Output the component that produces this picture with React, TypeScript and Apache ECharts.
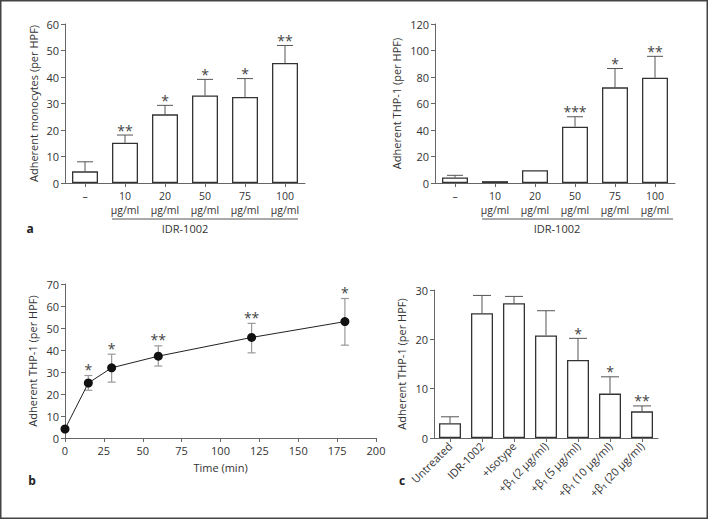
import React, { useEffect, useRef } from "react";
import * as echarts from "echarts";

// ---- Panel a: adherent monocytes vs IDR-1002 dose ----
const doseCats = ["–", "10\nµg/ml", "20\nµg/ml", "50\nµg/ml", "75\nµg/ml", "100\nµg/ml"];
const monoMean = [4.4, 15.2, 25.9, 33.0, 32.5, 45.3];
const monoUpper = [8.0, 18.1, 29.3, 39.1, 39.4, 51.9];
const monoSig = ["", "**", "*", "*", "*", "**"];

// ---- Panel top-right: adherent THP-1 vs IDR-1002 dose ----
const thpMean = [4.1, 1.4, 9.6, 42.5, 72.2, 79.4];
const thpUpper = [5.8, 1.4, 9.6, 50.0, 86.4, 95.6];
const thpSig = ["", "", "", "***", "*", "**"];

// ---- Panel b: time course ----
const timeMin = [0, 15, 30, 60, 120, 180];
const timeMean = [4.1, 25.0, 31.9, 37.2, 45.7, 52.9];
const timeLower = [4.1, 21.7, 25.4, 32.7, 38.7, 42.2];
const timeUpper = [4.1, 28.4, 38.1, 41.9, 52.1, 63.4];
const timeSig = ["", "*", "*", "**", "**", "*"];

// ---- Panel c: blocking ----
const blockCats = [
  "Untreated",
  "IDR-1002",
  "+Isotype",
  "+β₁ (2 µg/ml)",
  "+β₁ (5 µg/ml)",
  "+β₁ (10 µg/ml)",
  "+β₁ (20 µg/ml)",
];
const blockMean = [3.0, 25.3, 27.3, 20.8, 15.8, 9.0, 5.4];
const blockUpper = [4.3, 28.9, 28.7, 25.8, 20.2, 12.4, 6.5];
const blockSig = ["", "", "", "", "*", "*", "**"];

const FONT = "'Open Sans', 'DejaVu Sans', sans-serif";
const TXT = "#333";
const AX = "#666";

function barErrSeries(xi: number, mean: number[], upper: number[], sig: string[], cap: number) {
  return {
    type: "custom",
    xAxisIndex: xi,
    yAxisIndex: xi,
    z: 5,
    data: mean.map((m, k) => [k, m, upper[k]]),
    renderItem: (params: any, api: any) => {
      const i = api.value(0);
      const m = api.value(1);
      const u = api.value(2);
      const p0 = api.coord([i, m]);
      const p1 = api.coord([i, u]);
      const children: any[] = [];
      if (u > m) {
        children.push({
          type: "line",
          shape: { x1: p0[0], y1: p0[1], x2: p1[0], y2: p1[1] },
          style: { stroke: "#555", lineWidth: 1 },
        });
        children.push({
          type: "line",
          shape: { x1: p1[0] - cap, y1: p1[1], x2: p1[0] + cap, y2: p1[1] },
          style: { stroke: "#555", lineWidth: 1 },
        });
      }
      const s = sig[params.dataIndex];
      if (s) {
        children.push({
          type: "text",
          style: {
            text: s,
            x: p1[0],
            y: p1[1] - 5,
            textAlign: "center",
            textVerticalAlign: "middle",
            fontSize: 14,
            fontFamily: FONT,
            fill: "#444",
          },
        });
      }
      return { type: "group", children };
    },
  };
}

export default function App() {
  const ref = useRef<HTMLDivElement>(null);
  useEffect(() => {
    if (!ref.current) return;
    const chart = echarts.init(ref.current, undefined, { renderer: "svg" });

    const axisLine = { show: true, lineStyle: { color: AX, width: 1 } };
    const axisTick = { show: true, length: 4, lineStyle: { color: AX } };
    const axisLabel = { color: TXT, fontSize: 11, fontFamily: FONT };
    const nameStyle = { color: TXT, fontSize: 11, fontFamily: FONT };

    const option: any = {
      animation: false,
      backgroundColor: "#fff",
      grid: [
        { left: 65, top: 24, width: 240, height: 159 },
        { left: 435, top: 24, width: 240, height: 159 },
        { left: 65, top: 284, width: 311, height: 154 },
        { left: 434, top: 290, width: 224, height: 148 },
      ],
      xAxis: [
        {
          gridIndex: 0,
          type: "category",
          data: doseCats,
          axisLine,
          axisTick: { ...axisTick, alignWithLabel: true },
          axisLabel: { ...axisLabel, fontSize: 10.5, margin: 6, lineHeight: 14, interval: 0 },
        },
        {
          gridIndex: 1,
          type: "category",
          data: doseCats,
          axisLine,
          axisTick: { ...axisTick, alignWithLabel: true },
          axisLabel: { ...axisLabel, fontSize: 10.5, margin: 6, lineHeight: 14, interval: 0 },
        },
        {
          gridIndex: 2,
          type: "value",
          min: 0,
          max: 200,
          interval: 25,
          axisLine,
          axisTick,
          axisLabel: { ...axisLabel, margin: 7 },
          splitLine: { show: false },
          name: "Time (min)",
          nameLocation: "middle",
          nameGap: 24,
          nameTextStyle: nameStyle,
        },
        {
          gridIndex: 3,
          type: "category",
          data: blockCats,
          axisLine,
          axisTick: { ...axisTick, alignWithLabel: true },
          axisLabel: { ...axisLabel, rotate: 45, margin: 6, interval: 0 },
        },
      ],
      yAxis: [
        {
          gridIndex: 0,
          type: "value",
          min: 0,
          max: 60,
          interval: 10,
          axisLine,
          axisTick,
          axisLabel: { ...axisLabel, margin: 6 },
          splitLine: { show: false },
          name: "Adherent monocytes (per HPF)",
          nameLocation: "middle",
          nameGap: 26,
          nameTextStyle: nameStyle,
        },
        {
          gridIndex: 1,
          type: "value",
          min: 0,
          max: 120,
          interval: 20,
          axisLine,
          axisTick,
          axisLabel: { ...axisLabel, margin: 6 },
          splitLine: { show: false },
          name: "Adherent THP-1 (per HPF)",
          nameLocation: "middle",
          nameGap: 33,
          nameTextStyle: nameStyle,
        },
        {
          gridIndex: 2,
          type: "value",
          min: 0,
          max: 70,
          interval: 10,
          axisLine,
          axisTick,
          axisLabel: { ...axisLabel, margin: 6 },
          splitLine: { show: false },
          name: "Adherent THP-1 (per HPF)",
          nameLocation: "middle",
          nameGap: 27,
          nameTextStyle: nameStyle,
        },
        {
          gridIndex: 3,
          type: "value",
          min: 0,
          max: 30,
          interval: 10,
          axisLine,
          axisTick,
          axisLabel: { ...axisLabel, margin: 6 },
          splitLine: { show: false },
          name: "Adherent THP-1 (per HPF)",
          nameLocation: "middle",
          nameGap: 27,
          nameTextStyle: nameStyle,
        },
      ],
      series: [
        {
          type: "bar",
          xAxisIndex: 0,
          yAxisIndex: 0,
          data: monoMean,
          barWidth: 26,
          itemStyle: { color: "#fff", borderColor: "#333", borderWidth: 1.3 },
        },
        barErrSeries(0, monoMean, monoUpper, monoSig, 8),
        {
          type: "bar",
          xAxisIndex: 1,
          yAxisIndex: 1,
          data: thpMean,
          barWidth: 26,
          itemStyle: { color: "#fff", borderColor: "#333", borderWidth: 1.3 },
        },
        barErrSeries(1, thpMean, thpUpper, thpSig, 8),
        {
          type: "custom",
          xAxisIndex: 2,
          yAxisIndex: 2,
          z: 1,
          data: timeMin.map((t, k) => [t, timeLower[k], timeUpper[k]]),
          renderItem: (params: any, api: any) => {
            const t = api.value(0);
            const lo = api.value(1);
            const hi = api.value(2);
            const pl = api.coord([t, lo]);
            const ph = api.coord([t, hi]);
            const children: any[] = [];
            if (hi > lo) {
              const st = { stroke: "#999", lineWidth: 1.2 };
              children.push({ type: "line", shape: { x1: pl[0], y1: pl[1], x2: ph[0], y2: ph[1] }, style: st });
              children.push({ type: "line", shape: { x1: ph[0] - 4, y1: ph[1], x2: ph[0] + 4, y2: ph[1] }, style: st });
              children.push({ type: "line", shape: { x1: pl[0] - 4, y1: pl[1], x2: pl[0] + 4, y2: pl[1] }, style: st });
            }
            const s = timeSig[params.dataIndex];
            if (s) {
              children.push({
                type: "text",
                style: {
                  text: s,
                  x: ph[0],
                  y: ph[1] - 6,
                  textAlign: "center",
                  textVerticalAlign: "middle",
                  fontSize: 14,
                  fontFamily: FONT,
                  fill: "#444",
                },
              });
            }
            return { type: "group", children };
          },
        },
        {
          type: "line",
          xAxisIndex: 2,
          yAxisIndex: 2,
          z: 3,
          data: timeMin.map((t, k) => [t, timeMean[k]]),
          symbol: "circle",
          symbolSize: 9,
          lineStyle: { color: "#222", width: 1 },
          itemStyle: { color: "#111" },
        },
        {
          type: "bar",
          xAxisIndex: 3,
          yAxisIndex: 3,
          data: blockMean,
          barWidth: 22,
          itemStyle: { color: "#fff", borderColor: "#333", borderWidth: 1.3 },
        },
        barErrSeries(3, blockMean, blockUpper, blockSig, 9),
      ],
      graphic: [
        {
          type: "rect",
          shape: { x: 0.75, y: 0.75, width: 706.5, height: 517.5 },
          style: { fill: "none", stroke: "#444", lineWidth: 1.5 },
        },
        {
          type: "line",
          shape: { x1: 112, y1: 219, x2: 298, y2: 219 },
          style: { stroke: "#555", lineWidth: 1 },
        },
        {
          type: "text",
          x: 185,
          y: 228,
          style: { text: "IDR-1002", textAlign: "center", textVerticalAlign: "middle", fontSize: 11, fontFamily: FONT, fill: TXT },
        },
        {
          type: "line",
          shape: { x1: 482, y1: 219, x2: 673, y2: 219 },
          style: { stroke: "#555", lineWidth: 1 },
        },
        {
          type: "text",
          x: 557,
          y: 228,
          style: { text: "IDR-1002", textAlign: "center", textVerticalAlign: "middle", fontSize: 11, fontFamily: FONT, fill: TXT },
        },
        {
          type: "text",
          x: 30,
          y: 228,
          style: { text: "a", textAlign: "center", textVerticalAlign: "middle", fontSize: 12, fontWeight: "bold", fontFamily: FONT, fill: "#222" },
        },
        {
          type: "text",
          x: 32,
          y: 480,
          style: { text: "b", textAlign: "center", textVerticalAlign: "middle", fontSize: 12, fontWeight: "bold", fontFamily: FONT, fill: "#222" },
        },
        {
          type: "text",
          x: 402,
          y: 480,
          style: { text: "c", textAlign: "center", textVerticalAlign: "middle", fontSize: 12, fontWeight: "bold", fontFamily: FONT, fill: "#222" },
        },
      ],
    };
    chart.setOption(option);
    return () => chart.dispose();
  }, []);
  return (
    <div
      ref={ref}
      style={{ position: "fixed", left: 0, top: 0, width: 708, height: 519, background: "#fff" }}
    />
  );
}
